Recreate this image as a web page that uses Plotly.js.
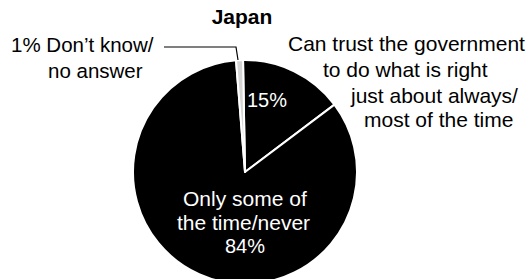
<!DOCTYPE html>
<html>
<head>
<meta charset="utf-8">
<script src="https://cdn.plot.ly/plotly-3.0.1.min.js"></script>
<style>
html,body{margin:0;padding:0;overflow:hidden;background:#fff;}
#chart{width:531px;height:290px;}
</style>
</head>
<body>
<div id="chart"></div>
<script>
// Data
var categories = ["Can trust the government to do what is right just about always/most of the time",
                  "Only some of the time/never",
                  "Don't know/no answer"];
var values = [15, 84, 1];
var sliceColors = ["#000000", "#000000", "#d4d4d4"];
var chartTitle = "Japan";

var W = 531, H = 290;
function px(x){ return x / W; }
function py(y){ return 1 - y / H; }

var FONT = "Liberation Sans, Arial, Helvetica, sans-serif";

var trace = {
  type: "pie",
  labels: categories,
  values: values,
  sort: false,
  direction: "clockwise",
  rotation: -1,
  textinfo: "none",
  hoverinfo: "label+percent",
  marker: { colors: sliceColors, line: { color: "#ffffff", width: 2 } },
  domain: { x: [px(133), px(357)], y: [py(284), py(60)] }
};

function ann(text, x, y, color, size){
  return { text: text, x: px(x), y: py(y), xref: "paper", yref: "paper",
           xanchor: "center", yanchor: "middle", showarrow: false,
           font: { family: FONT, size: size || 21, color: color || "#000" } };
}

var annotations = [
  ann(values[0] + "%", 267, 100, "#fff", 20),
  ann("Only some of", 245, 198, "#fff"),
  ann("the time/never", 243, 222, "#fff"),
  ann(values[1] + "%", 245, 246, "#fff", 20),
  ann("Can trust the government", 406, 44),
  ann("to do what is right", 405, 69),
  ann("just about always/", 434, 95),
  ann("most of the time", 438, 120),
  ann(values[2] + "% Don’t know/", 82, 45, null, 20.5),
  ann("no answer", 95, 70, null, 20.5)
];

var layout = {
  width: W, height: H,
  margin: { l: 0, r: 0, t: 0, b: 0 },
  paper_bgcolor: "#fff",
  plot_bgcolor: "#fff",
  showlegend: false,
  title: { text: "<b>" + chartTitle + "</b>", x: px(242), y: py(17), xanchor: "center", yanchor: "middle",
           font: { family: FONT, size: 21, color: "#000" } },
  annotations: annotations,
  shapes: [
    { type: "path", xref: "paper", yref: "paper",
      path: "M " + px(164) + "," + py(47) + " L " + px(236) + "," + py(47) + " L " + px(238) + "," + py(60),
      line: { color: "#000", width: 1.2 } }
  ]
};

Plotly.newPlot("chart", [trace], layout, { displayModeBar: false, staticPlot: true });
</script>
</body>
</html>
